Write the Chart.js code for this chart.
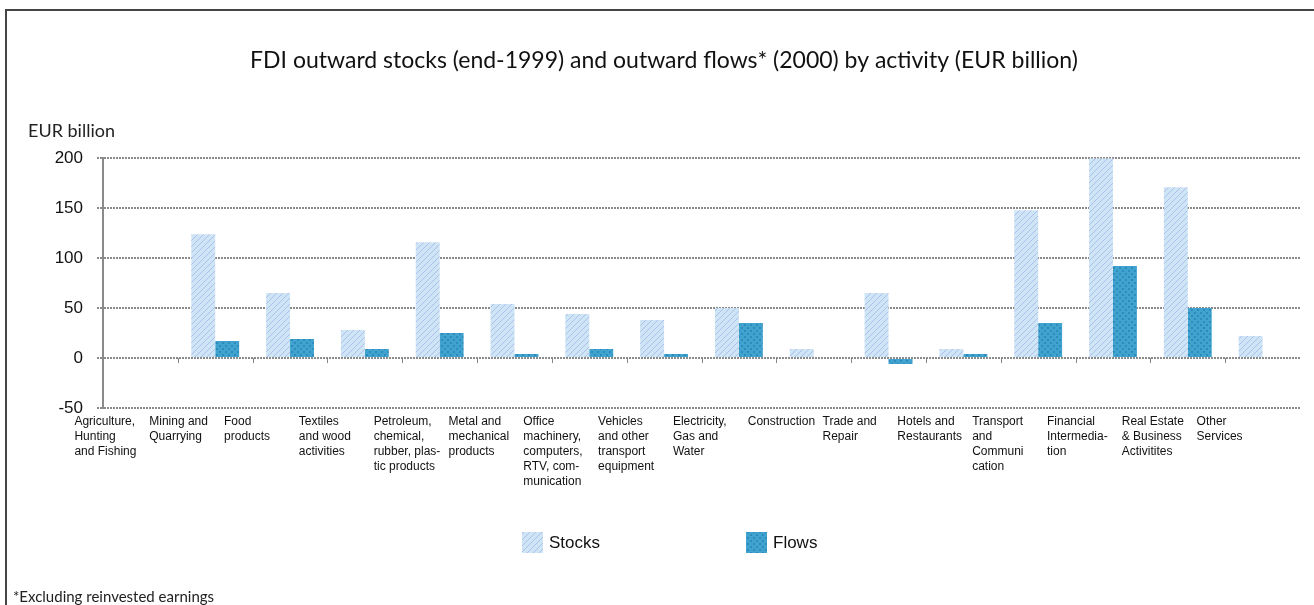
<!DOCTYPE html>
<html>
<head>
<meta charset="utf-8">
<script src="https://cdn.jsdelivr.net/npm/chart.js@4.4.1/dist/chart.umd.min.js"></script>
<style>
  body { margin: 0; background: #fff; }
  #wrap { position: relative; width: 1314px; height: 605px; overflow: hidden; }
  #frame { position: absolute; left: 5px; top: 9px; width: 1320px; height: 620px;
           border-left: 2px solid #444; border-top: 2px solid #444; }
  #note { position: absolute; left: 13px; top: 587px; font: 15px Lato, sans-serif; color: #222; }
  canvas { position: absolute; left: 0; top: 0; }
</style>
</head>
<body>
<div id="wrap">
  <div id="frame"></div>
  <canvas id="fdi" width="1314" height="605"></canvas>
  <div id="note">*Excluding reinvested earnings</div>
</div>
<script>
// categories (multi-line labels as in the original table)
var categories = [
  ['Agriculture,', 'Hunting', 'and Fishing'],
  ['Mining and', 'Quarrying'],
  ['Food', 'products'],
  ['Textiles', 'and wood', 'activities'],
  ['Petroleum,', 'chemical,', 'rubber, plas-', 'tic products'],
  ['Metal and', 'mechanical', 'products'],
  ['Office', 'machinery,', 'computers,', 'RTV, com-', 'munication'],
  ['Vehicles', 'and other', 'transport', 'equipment'],
  ['Electricity,', 'Gas and', 'Water'],
  ['Construction'],
  ['Trade and', 'Repair'],
  ['Hotels and', 'Restaurants'],
  ['Transport', 'and', 'Communi', 'cation'],
  ['Financial', 'Intermedia-', 'tion'],
  ['Real Estate', '& Business', 'Activitites'],
  ['Other', 'Services']
];
var stocks = [0, 124, 65, 28, 116, 54, 44, 38, 50, 9, 65, 9, 148, 200, 171, 22];
var flows  = [1, 17, 19, 9, 25, 4, 9, 4, 35, 1, -6, 4, 35, 92, 50, 0];
var yTicks = [-50, 0, 50, 100, 150, 200];

var sans = "'Liberation Sans', Arial, sans-serif";
var gridCol = '#8a8a8a';

function makePattern(base, draw) {
  var c = document.createElement('canvas');
  c.width = 6; c.height = 6;
  var g = c.getContext('2d');
  g.fillStyle = base;
  g.fillRect(0, 0, 6, 6);
  draw(g);
  return g.createPattern(c, 'repeat');
}

var stockFill = makePattern('#cde6f5', function(g) {
  g.strokeStyle = 'rgba(168,158,228,0.6)';
  g.lineWidth = 1;
  g.beginPath(); g.moveTo(0, 6); g.lineTo(6, 0); g.stroke();
});
var flowFill = makePattern('#3fa2cf', function(g) {
  g.fillStyle = '#2e8cbc';
  g.fillRect(0, 0, 2, 2); g.fillRect(3, 3, 2, 2);
});

// little tick marks hanging under the zero line, one per category border
var zeroTicks = {
  id: 'zeroTicks',
  afterDatasetsDraw: function(chart) {
    var x = chart.scales.x, y = chart.scales.y, ctx = chart.ctx;
    var y0 = y.getPixelForValue(0);
    var half = (x.getPixelForValue(1) - x.getPixelForValue(0)) / 2;
    ctx.save();
    ctx.strokeStyle = '#888';
    ctx.lineWidth = 1;
    for (var i = 0; i < categories.length - 1; i++) {
      var px = Math.round(x.getPixelForValue(i) + half) + 0.5;
      ctx.beginPath(); ctx.moveTo(px, y0); ctx.lineTo(px, y0 + 5); ctx.stroke();
    }
    ctx.restore();
  }
};

// legend spread wide under the plot, like the original
var wideLegend = {
  id: 'wideLegend',
  afterDraw: function(chart) {
    var ctx = chart.ctx;
    var xs = [chart.width / 2 - 135, chart.width / 2 + 89];
    var yc = 542;
    ctx.save();
    ctx.font = '17px ' + sans;
    ctx.textBaseline = 'middle';
    chart.data.datasets.forEach(function(ds, i) {
      ctx.fillStyle = ds.backgroundColor;
      ctx.fillRect(xs[i], yc - 10, 21, 21);
      ctx.fillStyle = '#111';
      ctx.fillText(ds.label, xs[i] + 27, yc + 1);
    });
    ctx.restore();
  }
};

var ctx = document.getElementById('fdi').getContext('2d');
new Chart(ctx, {
  type: 'bar',
  data: {
    labels: categories,
    datasets: [
      { label: 'Stocks', data: stocks, backgroundColor: stockFill },
      { label: 'Flows', data: flows, backgroundColor: flowFill }
    ]
  },
  options: {
    responsive: false,
    animation: false,
    events: [],
    categoryPercentage: 0.64,
    barPercentage: 1.0,
    layout: { padding: { left: 28, right: 14, top: 0, bottom: 81 } },
    plugins: {
      legend: { display: false },
      tooltip: { enabled: false },
      title: {
        display: true,
        text: 'FDI outward stocks (end-1999) and outward flows* (2000) by activity (EUR billion)',
        color: '#111',
        font: { family: 'Lato, sans-serif', size: 23, weight: 'normal', lineHeight: 1.2 },
        padding: { top: 47, bottom: 0 }
      },
      subtitle: {
        display: true,
        text: 'EUR billion',
        align: 'start',
        color: '#222',
        font: { family: 'Lato, sans-serif', size: 18, weight: 'normal', lineHeight: 1.2 },
        padding: { top: 46, bottom: 16 }
      }
    },
    scales: {
      x: {
        type: 'category',
        offset: true,
        grid: { display: false, drawTicks: false },
        border: { display: false },
        ticks: {
          color: '#111',
          align: 'start',
          labelOffset: -66,
          maxRotation: 0,
          autoSkip: false,
          padding: 6,
          font: { family: sans, size: 12, lineHeight: 1.25 }
        },
        afterFit: function(s) {
          s.height = 116;
          s.paddingRight = 0;
        }
      },
      y: {
        min: -50,
        max: 200,
        afterBuildTicks: function(s) {
          s.ticks = yTicks.map(function(v) { return { value: v }; });
        },
        grid: {
          color: gridCol,
          lineWidth: 2,
          tickLength: 6,
          tickColor: gridCol,
          tickBorderDash: [2, 1]
        },
        border: { display: true, color: gridCol, width: 2, dash: [2, 1] },
        ticks: {
          color: '#111',
          padding: 14,
          font: { family: sans, size: 17 }
        },
        afterFit: function(s) { s.width = 75; }
      }
    }
  },
  plugins: [zeroTicks, wideLegend]
});
</script>
</body>
</html>
